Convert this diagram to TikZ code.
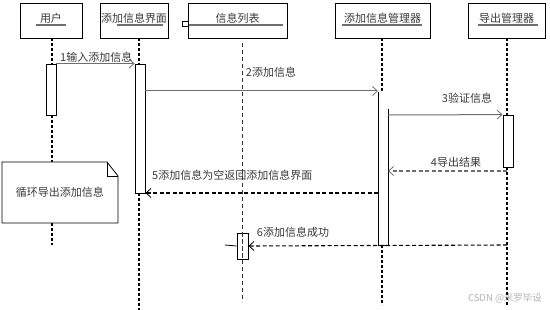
\documentclass[tikz,border=0pt]{standalone}
\usepackage{fontspec}
\newfontfamily\cjk{Noto Sans CJK SC}
\usetikzlibrary{arrows.meta}
\definecolor{msggray}{HTML}{6E6E6E}
\definecolor{txtgray}{HTML}{3A3A3A}
\begin{document}
\begin{tikzpicture}[x=1pt,y=-1pt,
  objbox/.style={draw=black, line width=0.9pt, fill=white, inner sep=0pt, minimum height=35pt},
  objtext/.style={text=txtgray, font=\cjk\fontsize{11}{12}\selectfont, inner sep=0pt},
  uline/.style={draw=msggray, line width=1.2pt},
  bar/.style={draw=black, line width=0.8pt, fill=white, minimum width=10pt, inner sep=0pt},
  life/.style={draw=black, line width=1.5pt, dash pattern=on 3pt off 2pt},
  lifethin/.style={draw=black!80, line width=0.6pt, dash pattern=on 4pt off 3pt},
  tip/.style={-{Straight Barb[length=5pt,width=9pt,line width=0.8pt]}},
  msg/.style={tip, draw=msggray, line width=1pt},
  reply/.style={tip, draw=black, line width=1.1pt, dash pattern=on 4pt off 2.5pt},
  replygray/.style={tip, draw=msggray, line width=1.1pt, dash pattern=on 4pt off 2.5pt},
  lbl/.style={text=txtgray, font=\cjk\fontsize{11}{12}\selectfont, inner sep=0pt}
]
\useasboundingbox (0,0) rectangle (550,310);

% lifelines
\draw[life] (52,38) -- (52,64);
\draw[life] (52,115) -- (52,162);
\draw[life] (52,223) -- (52,245);
\draw[life] (139,38) -- (139,64);
\draw[life] (139,193) -- (139,310);
\draw[lifethin] (242,43) -- (242,300);
\draw[life] (382,38) -- (382,92);
\draw[life] (382,245) -- (382,305);
\draw[life] (507,38) -- (507,115);
\draw[life] (507,167) -- (507,305);

% object boxes
\node[objbox, minimum width=62pt] (user) at (51,20.5) {};
\node[objtext] (usert) at (51,18.5) {用户};
\draw[uline] (36,25) -- (66,25);

\node[objbox, minimum width=68pt] (ui) at (134,20.5) {};
\node[objtext] (uit) at (134,18.5) {添加信息界面};
\draw[uline] (117,25) -- (163,25);

\node[objbox, minimum width=99pt] (list) at (237.5,20.5) {};
\node[objtext] (listt) at (237.5,18.5) {信息列表};
\draw[uline] (189,25) -- (283,25);
\draw[black, line width=0.8pt] (189,21) -- (182,21) -- (182,26) -- (189,26);

\node[objbox, minimum width=95pt] (mgr) at (382.5,20.5) {};
\node[objtext] (mgrt) at (382.5,18.5) {添加信息管理器};
\draw[uline] (342,25) -- (422,25);

\node[objbox, minimum width=77pt] (exp) at (506.5,20.5) {};
\node[objtext] (expt) at (506.5,18.5) {导出管理器};
\draw[uline] (478,25) -- (538,25);

% activation bars
\node[bar, minimum height=51pt] (ub) at (51,89.5) {};
\node[bar, minimum height=129pt] (ib) at (140,128.5) {};
\node[bar, minimum height=52pt] (eb) at (508,141) {};
\node[draw=black, line width=0.8pt, minimum width=11pt, minimum height=26pt, inner sep=0pt] (lb) at (242.5,246) {};
\coordinate (mL) at (378,92);
\coordinate (mR) at (388,109);
\coordinate (mB) at (383,245);
\fill[white] (378,92) rectangle (388,245);
\draw[black, line width=0.8pt] (mR) -- (388,245) -- (378,245) -- (mL);
\coordinate (stub) at (225,245);
\draw[black, line width=0.8pt] (stub) -- (lb.west);
\draw[lifethin] (242,233) -- (242,259);

% note
\coordinate (n1) at (2,162);
\coordinate (n2) at (107,162);
\coordinate (n3) at (118,176);
\coordinate (n4) at (118,223);
\coordinate (n5) at (2,223);
\draw[black, line width=0.8pt, fill=white] (n1) -- (n2) -- (n3) -- (n4) -- (n5) -- cycle;
\draw[black, line width=0.8pt] (n2) -- (107,176) -- (n3);
\node[lbl] (notet) at (60,192) {循环导出添加信息};

% messages
\coordinate (y2) at (0,91);
\coordinate (y3) at (0,115);
\coordinate (y4) at (0,171);
\coordinate (y5) at (0,193);
\coordinate (y6) at (0,245);
\coordinate (eL) at (507,0);
\draw[msg] (ub.north east) -- (ib.north west);
\draw[msg] (ib.east |- y2) -- (mL |- y2);
\draw[msg] (mR |- y3) -- (eb.north west);
\draw[replygray] (eL |- y4) -- (mR |- y4);
\draw[reply] (mL |- y5) -- (ib.east |- y5);
\draw[reply] (eL |- y6) -- (lb.east);

\node[lbl, anchor=west] (l1) at (60,57) {1输入添加信息};
\node[lbl] (l2) at (271,72) {2添加信息};
\node[lbl] (l3) at (467,98) {3验证信息};
\node[lbl] (l4) at (456,162) {4导出结果};
\node[lbl, anchor=west] (l5) at (152,175) {5添加信息为空返回添加信息界面};
\node[lbl] (l6) at (293,232) {6添加信息成功};

\node[text=black!30, font=\cjk\fontsize{9.5}{10}\selectfont, inner sep=0pt] (wm) at (505,298) {CSDN @米罗毕设};
\end{tikzpicture}
\end{document}
